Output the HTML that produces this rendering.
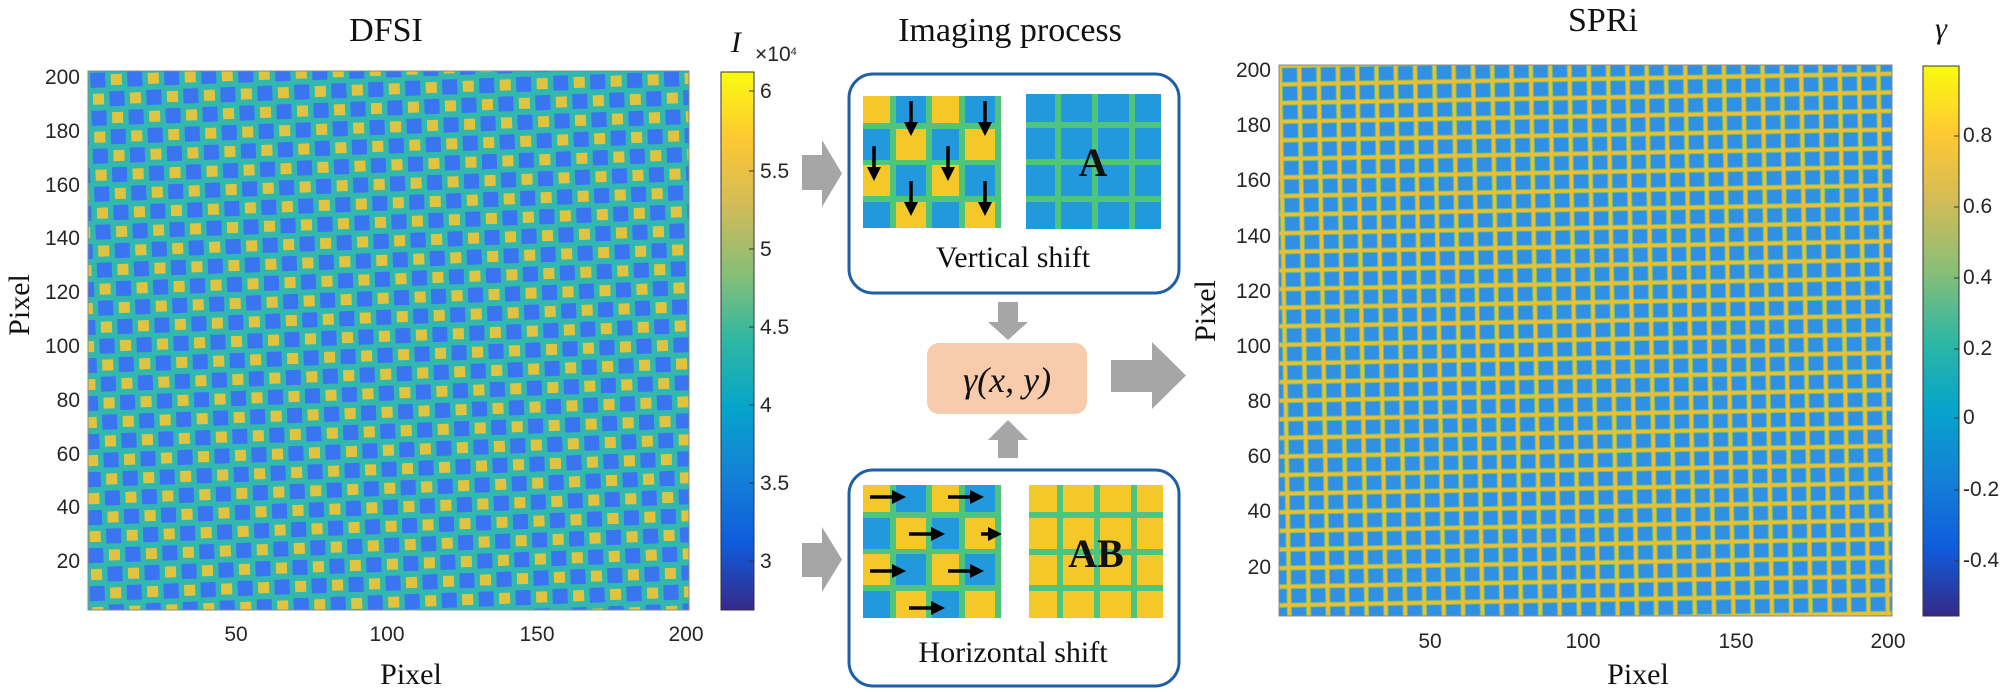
<!DOCTYPE html>
<html><head><meta charset="utf-8"><style>
html,body{margin:0;padding:0;background:#fff}
svg{display:block}
.t{font-family:"Liberation Sans",Arial,sans-serif;font-size:21px;fill:#262626}
.s{font-family:"Liberation Serif","Times New Roman",serif;fill:#111}
</style></head><body>
<svg width="2001" height="692" viewBox="0 0 2001 692" xmlns="http://www.w3.org/2000/svg">
<defs>
<linearGradient id="parula" x1="0" y1="1" x2="0" y2="0">
<stop offset="0" stop-color="#352a87"/><stop offset="0.125" stop-color="#0f5cdd"/>
<stop offset="0.25" stop-color="#1481d6"/><stop offset="0.375" stop-color="#06a4ca"/>
<stop offset="0.5" stop-color="#2eb7a4"/><stop offset="0.625" stop-color="#87bf77"/>
<stop offset="0.75" stop-color="#d1bb59"/><stop offset="0.875" stop-color="#fec832"/>
<stop offset="1" stop-color="#f9fb0e"/></linearGradient>
<pattern id="chk" width="37" height="38" patternUnits="userSpaceOnUse" patternTransform="translate(88,71) rotate(-2)">
<rect width="37" height="38" fill="#33b8ae"/>
<rect x="2" y="2" width="15" height="15" fill="#3b74f0"/>
<rect x="20.5" y="21" width="15" height="15" fill="#3b74f0"/>
<rect x="22.5" y="4" width="11" height="11" fill="#e0c440"/>
<rect x="4" y="23" width="11" height="11" fill="#e0c440"/>
</pattern>
<pattern id="grd" width="19.3" height="18.6" patternUnits="userSpaceOnUse" patternTransform="translate(1279,65) rotate(-1)">
<rect width="19.3" height="18.6" fill="#ecbe36"/>
<rect x="2.5" y="2.5" width="16" height="15.3" fill="#6cc07a"/>
<rect x="3.5" y="3.5" width="14" height="13.3" fill="#3090e4"/>
</pattern>
<marker id="ah" markerWidth="4" markerHeight="4" refX="2" refY="2" orient="auto"><path d="M0,0L4,2L0,4z" fill="#000"/></marker>
</defs>

<!-- Left plot -->
<text class="s" x="386" y="41" font-size="34" text-anchor="middle">DFSI</text>
<rect x="88" y="71" width="601" height="539" fill="url(#chk)"/>
<rect x="88" y="71" width="601" height="539" fill="none" stroke="#888" stroke-width="1"/>
<g class="t" text-anchor="middle"><text x="236" y="641">50</text><text x="387" y="641">100</text><text x="537" y="641">150</text><text x="686" y="641">200</text></g>
<g class="t" text-anchor="end">
<text x="80" y="84">200</text><text x="80" y="138">180</text><text x="80" y="192">160</text><text x="80" y="245">140</text><text x="80" y="299">120</text><text x="80" y="353">100</text><text x="80" y="407">80</text><text x="80" y="461">60</text><text x="80" y="514">40</text><text x="80" y="568">20</text></g>
<text class="s" x="411" y="684" font-size="30" text-anchor="middle">Pixel</text>
<text class="s" x="0" y="0" font-size="30" text-anchor="middle" transform="translate(29,305) rotate(-90)">Pixel</text>
<!-- Left colorbar -->
<rect x="721" y="72" width="33" height="538" fill="url(#parula)" stroke="#333" stroke-width="1"/>
<g stroke="#333"><line x1="749" y1="91" x2="754" y2="91"/><line x1="749" y1="171" x2="754" y2="171"/><line x1="749" y1="249" x2="754" y2="249"/><line x1="749" y1="327" x2="754" y2="327"/><line x1="749" y1="405" x2="754" y2="405"/><line x1="749" y1="483" x2="754" y2="483"/><line x1="749" y1="561" x2="754" y2="561"/></g>
<g class="t" font-size="19"><text x="760" y="98">6</text><text x="760" y="178">5.5</text><text x="760" y="256">5</text><text x="760" y="334">4.5</text><text x="760" y="412">4</text><text x="760" y="490">3.5</text><text x="760" y="568">3</text></g>
<text class="s" x="731" y="52" font-size="30" font-style="italic">I</text>
<text class="t" x="755" y="61" font-size="14">×10<tspan dy="-6" font-size="11">4</tspan></text>

<!-- Middle -->
<text class="s" x="1010" y="41" font-size="34" text-anchor="middle">Imaging process</text>
<g fill="#a6a6a6">
<path d="M802,155H822V140L842,173.5L822,207V190H802Z"/>
<path d="M802,543H822V527L842,559.5L822,592V577H802Z"/>
<path d="M998,302H1018V322H1028L1008,340L988,322H998Z"/>
<path d="M998,458H1018V440H1028L1008,420L988,440H998Z"/>
<path d="M1111,360H1152V342L1186,375.5L1152,409V392H1111Z"/>
</g>
<rect x="849" y="74" width="330" height="219" rx="24" fill="none" stroke="#1f5fa6" stroke-width="3"/>
<rect x="849" y="470" width="330" height="216" rx="24" fill="none" stroke="#1f5fa6" stroke-width="3"/>
<rect x="927" y="343" width="160" height="71" rx="12" fill="#f8cbad"/>
<text class="s" x="1007" y="392" font-size="36" font-style="italic" text-anchor="middle">γ(x, y)</text>

<!-- vertical shift grid -->
<g>
<rect x="863" y="96" width="138" height="132" fill="#4ec47c"/>
<g fill="#f5c82a">
<rect x="863" y="96" width="27" height="27"/><rect x="932" y="96" width="27" height="27"/>
<rect x="896" y="129" width="30" height="31"/><rect x="965" y="129" width="30" height="31"/>
<rect x="863" y="165" width="27" height="31"/><rect x="932" y="165" width="27" height="31"/>
<rect x="896" y="202" width="30" height="26"/><rect x="965" y="202" width="30" height="26"/>
</g>
<g fill="#2199dc">
<rect x="896" y="96" width="30" height="27"/><rect x="965" y="96" width="30" height="27"/>
<rect x="863" y="129" width="27" height="31"/><rect x="932" y="129" width="27" height="31"/>
<rect x="896" y="165" width="30" height="31"/><rect x="965" y="165" width="30" height="31"/>
<rect x="863" y="202" width="27" height="26"/><rect x="932" y="202" width="27" height="26"/>
</g>
<g stroke="#000" stroke-width="3.5" marker-end="url(#ah)">
<line x1="911" y1="101" x2="911" y2="129"/><line x1="985" y1="101" x2="985" y2="129"/>
<line x1="874" y1="146" x2="874" y2="174"/><line x1="948" y1="146" x2="948" y2="174"/>
<line x1="911" y1="181" x2="911" y2="209"/><line x1="985" y1="181" x2="985" y2="209"/>
</g>
</g>
<!-- A grid -->
<rect x="1026" y="94" width="135" height="135" fill="#2199dc"/>
<g fill="#4ec47c"><rect x="1055" y="94" width="6" height="135"/><rect x="1092" y="94" width="6" height="135"/><rect x="1129" y="94" width="6" height="135"/>
<rect x="1026" y="122" width="135" height="6"/><rect x="1026" y="159" width="135" height="6"/><rect x="1026" y="196" width="135" height="6"/></g>
<text class="s" x="1093" y="176" font-size="40" font-weight="bold" text-anchor="middle">A</text>
<text class="s" x="1013" y="267" font-size="30" text-anchor="middle">Vertical shift</text>

<!-- horizontal shift grid -->
<rect x="863" y="485" width="138" height="133" fill="#4ec47c"/>
<g fill="#f5c82a">
<rect x="863" y="485" width="27" height="27"/><rect x="932" y="485" width="27" height="27"/>
<rect x="896" y="518" width="30" height="31"/><rect x="965" y="518" width="30" height="31"/>
<rect x="863" y="554" width="27" height="31"/><rect x="932" y="554" width="27" height="31"/>
<rect x="896" y="591" width="30" height="27"/><rect x="965" y="591" width="30" height="27"/>
</g>
<g fill="#2199dc">
<rect x="896" y="485" width="30" height="27"/><rect x="965" y="485" width="30" height="27"/>
<rect x="863" y="518" width="27" height="31"/><rect x="932" y="518" width="27" height="31"/>
<rect x="896" y="554" width="30" height="31"/><rect x="965" y="554" width="30" height="31"/>
<rect x="863" y="591" width="27" height="27"/><rect x="932" y="591" width="27" height="27"/>
</g>
<g stroke="#000" stroke-width="3.5" marker-end="url(#ah)">
<line x1="870" y1="497" x2="899" y2="497"/><line x1="948" y1="497" x2="977" y2="497"/>
<line x1="909" y1="534" x2="938" y2="534"/><line x1="981" y1="534" x2="995" y2="534"/>
<line x1="870" y1="571" x2="899" y2="571"/><line x1="948" y1="571" x2="977" y2="571"/>
<line x1="909" y1="608" x2="938" y2="608"/>
</g>
<!-- AB grid -->
<rect x="1029" y="485" width="134" height="133" fill="#f5c82a"/>
<g fill="#4ec47c"><rect x="1057" y="485" width="6" height="133"/><rect x="1094" y="485" width="6" height="133"/><rect x="1131" y="485" width="6" height="133"/>
<rect x="1029" y="512" width="134" height="6"/><rect x="1029" y="549" width="134" height="6"/><rect x="1029" y="585" width="134" height="6"/></g>
<text class="s" x="1096" y="567" font-size="40" font-weight="bold" text-anchor="middle">AB</text>
<text class="s" x="1013" y="662" font-size="30" text-anchor="middle">Horizontal shift</text>

<!-- Right plot -->
<text class="s" x="1603" y="31" font-size="34" text-anchor="middle">SPRi</text>
<rect x="1279" y="65" width="613" height="551" fill="url(#grd)"/>
<rect x="1279" y="65" width="613" height="551" fill="none" stroke="#888"/>
<g class="t" text-anchor="middle"><text x="1430" y="648">50</text><text x="1583" y="648">100</text><text x="1736" y="648">150</text><text x="1888" y="648">200</text></g>
<g class="t" text-anchor="end">
<text x="1271" y="77">200</text><text x="1271" y="132">180</text><text x="1271" y="187">160</text><text x="1271" y="243">140</text><text x="1271" y="298">120</text><text x="1271" y="353">100</text><text x="1271" y="408">80</text><text x="1271" y="463">60</text><text x="1271" y="518">40</text><text x="1271" y="574">20</text></g>
<text class="s" x="1638" y="684" font-size="30" text-anchor="middle">Pixel</text>
<text class="s" x="0" y="0" font-size="30" text-anchor="middle" transform="translate(1215,311) rotate(-90)">Pixel</text>
<rect x="1923" y="66" width="36" height="550" fill="url(#parula)" stroke="#333"/>
<g stroke="#333"><line x1="1954" y1="136" x2="1959" y2="136"/><line x1="1954" y1="207" x2="1959" y2="207"/><line x1="1954" y1="278" x2="1959" y2="278"/><line x1="1954" y1="349" x2="1959" y2="349"/><line x1="1954" y1="418" x2="1959" y2="418"/><line x1="1954" y1="490" x2="1959" y2="490"/><line x1="1954" y1="561" x2="1959" y2="561"/></g>
<g class="t" font-size="18"><text x="1963" y="142">0.8</text><text x="1963" y="213">0.6</text><text x="1963" y="284">0.4</text><text x="1963" y="355">0.2</text><text x="1963" y="424">0</text><text x="1963" y="496">-0.2</text><text x="1963" y="567">-0.4</text></g>
<text class="s" x="1941" y="38" font-size="30" font-style="italic" text-anchor="middle">γ</text>
</svg>
</body></html>
